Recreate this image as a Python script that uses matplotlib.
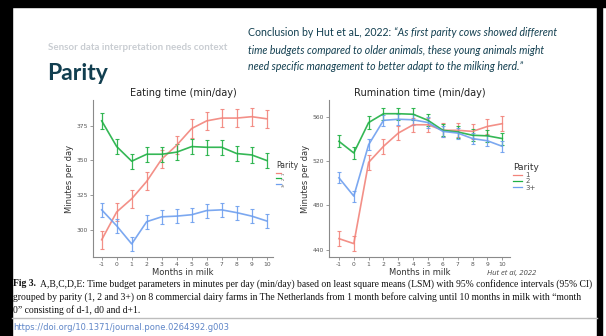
import matplotlib
matplotlib.use("Agg")
import matplotlib.pyplot as plt
from matplotlib.lines import Line2D
from matplotlib.patches import Rectangle

plt.rcParams["axes.unicode_minus"] = False

W, H = 606, 336

# ---- data -------------------------------------------------------------
months = [-1, 0, 1, 2, 3, 4, 5, 6, 7, 8, 9, 10]
parities = ["1", "2", "3+"]

eating_p1 = [293, 313, 322.5, 335, 351, 361, 373, 378.5, 380.5, 380.5, 381.5, 380]
eating_p2 = [378.5, 360, 349.5, 354.5, 354.5, 356, 360, 359.5, 359.5, 355, 354, 350]
eating_p3 = [314.5, 303, 290, 306, 309.5, 310, 311, 314, 314.5, 312.5, 310, 306.5]
eating_ci = [6.5, 5.5, 5]

rumination_p1 = [450, 445.5, 519, 533.5, 545.5, 553, 553, 548, 548, 547, 551.5, 554]
rumination_p2 = [538, 527.5, 555, 563, 563, 562.5, 557, 548, 546.5, 543.5, 543, 540.5]
rumination_p3 = [505, 488.5, 535, 557, 558, 557.5, 555, 547, 545.5, 540.5, 538.5, 533.5]
rumination_ci = [6.5, 5.5, 5]

eating_ticks = [300, 325, 350, 375]
rumination_ticks = [440, 480, 520, 560]

colors = ["#F2847B", "#1FB043", "#6E9FEF"]

TEAL = "#123f50"


def fx(x):
    return x / W


def fy(y):
    return 1 - y / H


fig = plt.figure(figsize=(W / 100, H / 100), dpi=100)
fig.patch.set_facecolor("white")

# window frame
for (x0, y0, w, h) in [(0, 0, W, 7), (0, 0, 12, H), (597, 0, 5, H)]:
    fig.patches.append(Rectangle((fx(x0), fy(y0 + h)), w / W, h / H,
                                 transform=fig.transFigure, color="black", zorder=0))


def panel(rect, series, ci, ticks, xlim, ylim, title):
    x0, y0, x1, y1 = rect
    ax = fig.add_axes([fx(x0), fy(y1), (x1 - x0) / W, (y1 - y0) / H])
    for vals, err, col in zip(series, ci, colors):
        ax.errorbar(months, vals, yerr=err, color=col, lw=1.2, elinewidth=0.9,
                    capsize=1.6, capthick=0.8, alpha=0.9)
    ax.set_xlim(*xlim)
    ax.set_ylim(*ylim)
    ax.set_xticks(months)
    ax.set_yticks(ticks)
    for s in ("top", "right"):
        ax.spines[s].set_visible(False)
    for s in ("left", "bottom"):
        ax.spines[s].set_color("#8a8a8a")
        ax.spines[s].set_linewidth(0.8)
    ax.tick_params(colors="#8a8a8a", labelcolor="#555555", labelsize=4.3,
                   length=2, width=0.6, pad=1.5)
    ax.set_title(title, fontsize=7, color="#222222", pad=3)
    ax.set_xlabel("Months in milk", fontsize=6, color="#333333", labelpad=0.5)
    ax.set_ylabel("Minutes per day", fontsize=6, color="#333333", labelpad=2)
    return ax


ax1 = panel((93, 100, 273, 257), [eating_p1, eating_p2, eating_p3], eating_ci,
            eating_ticks, (-1.58, 10.42), (280.6, 393.5), "Eating time (min/day)")
ax2 = panel((329, 100, 510, 257), [rumination_p1, rumination_p2, rumination_p3],
            rumination_ci, rumination_ticks, (-1.67, 10.52), (433.4, 575.4),
            "Rumination time (min/day)")

# legends
handles = [Line2D([], [], color=c, lw=0.9) for c in colors]
leg1 = fig.legend(handles, parities, title="Parity", loc="upper left",
                  bbox_to_anchor=(fx(275), fy(160)), frameon=False,
                  fontsize=2.5, title_fontsize=5.5, handlelength=1.2,
                  handletextpad=0.4, labelspacing=0.3, borderaxespad=0)
leg1._legend_box.align = "left"
for t in leg1.get_texts():
    t.set_rotation(90)
    t.set_color("#555555")
leg1.get_title().set_color("#333333")

leg2 = fig.legend(handles, parities, title="Parity", loc="upper left",
                  bbox_to_anchor=(fx(510), fy(160)), frameon=False,
                  fontsize=5, title_fontsize=6.5, handlelength=1.3,
                  handletextpad=0.5, labelspacing=0.05, borderaxespad=0)
leg2._legend_box.align = "left"
for t in leg2.get_texts():
    t.set_color("#555555")
leg2.get_title().set_color("#333333")

fig.text(fx(487), fy(273), "Hut et al, 2022", fontsize=5.5, style="italic",
         color="#444444", va="center", family="Open Sans")

# slide header
fig.text(fx(48), fy(47), "Sensor data interpretation needs context", fontsize=7.0,
         color="#c9cdd2", va="center", family="Lato", weight="bold")
fig.text(fx(47), fy(73), "Parity", fontsize=16.5, color=TEAL, va="center",
         family="Lato", weight="bold")

renderer = fig.canvas.get_renderer()
QFS = 7.6
t0 = fig.text(fx(248), fy(32), "Conclusion by Hut et aL, 2022: ", fontsize=QFS,
              color=TEAL, va="center", family="Lato")
bb = t0.get_window_extent(renderer)
fig.text(bb.x1 / (W), fy(32),
         "\u201cAs first parity cows showed different", fontsize=QFS,
         color=TEAL, va="center", family="Lato", style="italic")
fig.text(fx(248), fy(50),
         "time budgets compared to older animals, these young animals might",
         fontsize=QFS, color=TEAL, va="center", family="Lato", style="italic")
fig.text(fx(248), fy(67),
         "need specific management to better adapt to the milking herd.\u201d",
         fontsize=QFS, color=TEAL, va="center", family="Lato", style="italic")

# figure caption
cap = dict(fontsize=6.9, color="#111111", va="center", family="Liberation Serif")
tb = fig.text(fx(13), fy(284), "Fig 3.", weight="bold", **cap)
bb = tb.get_window_extent(renderer)
fig.text(bb.x1 / W + 4 / W, fy(284),
         "A,B,C,D,E: Time budget parameters in minutes per day (min/day) based on least "
         "square means (LSM) with 95% confidence intervals (95% CI)", **cap)
fig.text(fx(13), fy(297),
         "grouped by parity (1, 2 and 3+) on 8 commercial dairy farms in The Netherlands "
         "from 1 month before calving until 10 months in milk with \u201cmonth", **cap)
fig.text(fx(13), fy(310), "0\u201d consisting of d-1, d0 and d+1.", **cap)

fig.add_artist(Line2D([fx(12), fx(597)], [fy(318), fy(318)], color="#bdbdbd", lw=1))
fig.text(fx(13), fy(328), "https://doi.org/10.1371/journal.pone.0264392.g003",
         fontsize=6.0, color="#5f86c8", va="center",
         family=["Liberation Sans Narrow", "DejaVu Sans"])

fig.savefig("out.png", dpi=100, facecolor="white")
